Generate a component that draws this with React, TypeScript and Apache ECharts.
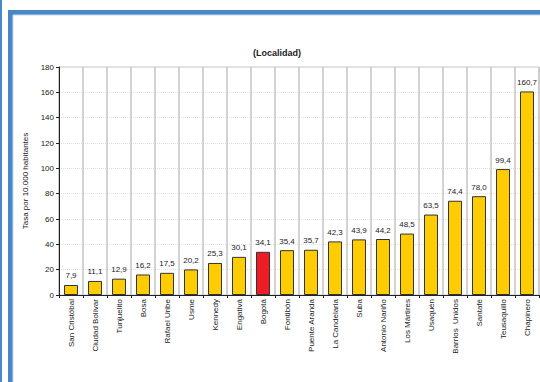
import React, { useEffect, useRef } from "react";
import * as echarts from "echarts";

const categories = [
  "San Cristóbal", "Ciudad Bolívar", "Tunjuelito", "Bosa", "Rafael Uribe", "Usme",
  "Kennedy", "Engativá", "Bogotá", "Fontibón", "Puente Aranda", "La Candelaria",
  "Suba", "Antonio Nariño", "Los Mártires", "Usaquén", "Barrios  Unidos", "Santafé",
  "Teusaquillo", "Chapinero",
];
const values = [7.9, 11.1, 12.9, 16.2, 17.5, 20.2, 25.3, 30.1, 34.1, 35.4, 35.7, 42.3, 43.9, 44.2, 48.5, 63.5, 74.4, 78.0, 99.4, 160.7];
const highlight = "Bogotá";
const title = "(Localidad)";
const yName = "Tasa por 10.000 habitantes";

export default function App() {
  const ref = useRef<HTMLDivElement>(null);
  useEffect(() => {
    if (!ref.current) return;
    const chart = echarts.init(ref.current, null, { renderer: "svg" });
    const font = "Liberation Sans, Arial, sans-serif";
    chart.setOption({
      animation: false,
      backgroundColor: "#ffffff",
      textStyle: { fontFamily: font },
      title: {
        text: title,
        left: 272,
        top: 43,
        textAlign: "center",
        textStyle: { fontSize: 9, fontWeight: "bold", color: "#222", fontFamily: font },
      },
      graphic: [
        { type: "rect", shape: { x: 0, y: 0, width: 2, height: 382 }, style: { fill: "#4a87c6" } },
        { type: "rect", shape: { x: 10.5, y: 12.5, width: 560, height: 400 }, style: { fill: "none", stroke: "#4a87c6", lineWidth: 5 } },
        { type: "rect", shape: { x: 13, y: 15, width: 560, height: 400 }, style: { fill: "none", stroke: "#c9daf0", lineWidth: 1 } },
      ],
      grid: {
        left: 59,
        top: 67,
        width: 480,
        height: 228,
        show: true,
        borderColor: "#c4c4c4",
        borderWidth: 1,
        backgroundColor: "transparent",
      },
      xAxis: {
        type: "category",
        data: categories,
        axisLine: { lineStyle: { color: "#222", width: 1 } },
        axisTick: { show: true, length: 3, alignWithLabel: false, lineStyle: { color: "#222" } },
        splitLine: { show: true, lineStyle: { color: "#c4c4c4", width: 1.5 } },
        axisLabel: { rotate: 90, fontSize: 8, color: "#222", margin: 4, interval: 0, fontFamily: font },
      },
      yAxis: {
        type: "value",
        min: 0,
        max: 180,
        interval: 20,
        name: yName,
        nameLocation: "middle",
        nameGap: 28,
        nameTextStyle: { fontSize: 8, color: "#222", fontFamily: font },
        axisLine: { show: true, lineStyle: { color: "#222", width: 1 } },
        axisTick: { show: true, length: 3, lineStyle: { color: "#222" } },
        splitLine: { show: true, lineStyle: { color: "#e2e2e2", type: "dotted", width: 1 } },
        axisLabel: { fontSize: 8, color: "#222", margin: 5, fontFamily: font },
      },
      series: [
        {
          type: "bar",
          barWidth: 14,
          data: values.map((v, i) => ({
            value: v,
            itemStyle: {
              color: categories[i] === highlight ? "#ee1c25" : "#ffcc00",
              borderColor: "#333",
              borderWidth: 1,
            },
          })),
          label: {
            show: true,
            position: "top",
            distance: 5,
            fontSize: 8,
            color: "#222",
            fontFamily: font,
            formatter: (p: any) => Number(p.value).toFixed(1).replace(".", ","),
          },
        },
      ],
    });
    return () => chart.dispose();
  }, []);
  return (
    <div
      ref={ref}
      style={{ position: "absolute", left: 0, top: 0, width: 540, height: 382 }}
    />
  );
}
